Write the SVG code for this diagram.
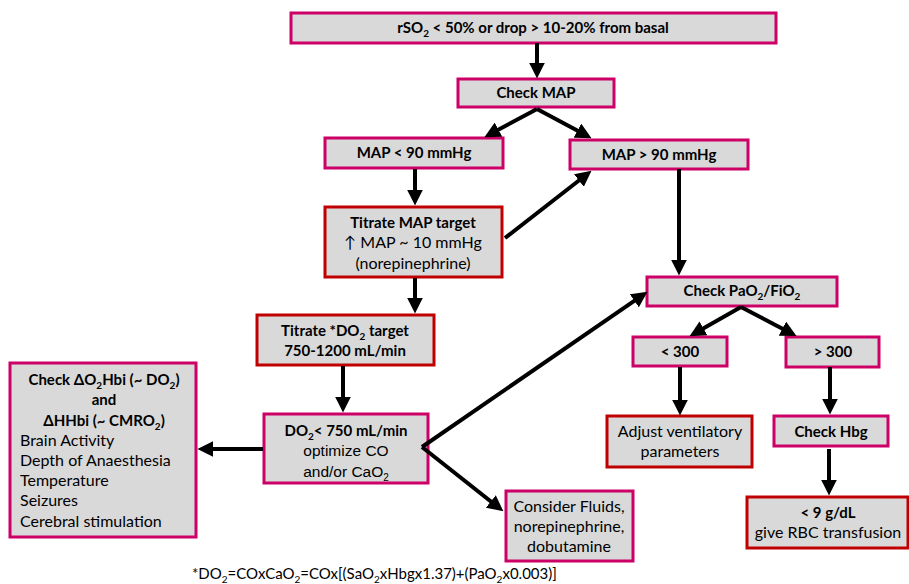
<svg xmlns="http://www.w3.org/2000/svg" width="909" height="584" viewBox="0 0 909 584">
<style>
.bx{fill:#d9d9d9;stroke-width:3}
.pk{stroke:#cc0066}
.rd{stroke:#c00000}
text{font-family:Lato,"Open Sans","Noto Sans",sans-serif;font-size:16px;fill:#000}
.b{font-weight:bold;font-size:15px}
.c{text-anchor:middle}
.ar{font-family:"Liberation Sans",Arial,sans-serif;font-size:15.5px}
.s{font-size:10px}
.cn line{stroke:#000;stroke-width:4;marker-end:url(#ah)}
</style>
<defs>
<marker id="ah" markerUnits="userSpaceOnUse" markerWidth="16" markerHeight="16" viewBox="0 0 14 14" refX="10" refY="7" orient="auto">
<path d="M0,0 L14,7 L0,14 z" fill="#000"/>
</marker>
</defs>
<g id="n1"><rect class="bx pk" x="291" y="13" width="485" height="30"/><text class="b c" x="533" y="33">rSO<tspan class="s" dy="4">2</tspan><tspan dy="-4"> &lt; 50% or drop &gt; 10-20% from basal</tspan></text></g>
<g id="n2"><rect class="bx pk" x="458" y="79" width="156" height="28"/><text class="b c" x="536" y="98">Check MAP</text></g>
<g id="n3"><rect class="bx pk" x="325" y="138" width="178" height="30"/><text class="b c" x="414" y="158">MAP &lt; 90 mmHg</text></g>
<g id="n4"><rect class="bx pk" x="570" y="140" width="178" height="29"/><text class="b c" x="659" y="160">MAP &gt; 90 mmHg</text></g>
<g id="n5"><rect class="bx rd" x="325" y="207" width="177" height="70"/><text class="b c" x="413" y="228">Titrate MAP target</text><text class="c" x="413" y="248">↑ MAP ~ 10 mmHg</text><text class="c" x="413" y="269">(norepinephrine)</text></g>
<g id="n6"><rect class="bx rd" x="257" y="315" width="177" height="50"/><text class="b c" x="345" y="336">Titrate *DO<tspan class="s" dy="4">2</tspan><tspan dy="-4"> target</tspan></text><text class="b c" x="345" y="356">750-1200 mL/min</text></g>
<g id="n7"><rect class="bx pk" x="264" y="414" width="164" height="69"/><text class="b c" x="346" y="436">DO<tspan class="s" dy="4">2</tspan><tspan dy="-4">&lt; 750 mL/min</tspan></text><text class="ar c" x="346" y="456">optimize CO</text><text class="ar c" x="346" y="477">and/or CaO<tspan class="s" dy="4">2</tspan></text></g>
<g id="n8"><rect class="bx pk" x="10" y="363" width="186" height="174"/><text class="b c" x="104" y="385">Check ΔO<tspan class="s" dy="4">2</tspan><tspan dy="-4">Hbi (~ DO</tspan><tspan class="s" dy="4">2</tspan><tspan dy="-4">)</tspan></text><text class="b c" x="104" y="405">and</text><text class="b c" x="104" y="426">ΔHHbi (~ CMRO<tspan class="s" dy="4">2</tspan><tspan dy="-4">)</tspan></text><text x="20" y="446">Brain Activity</text><text x="20" y="466">Depth of Anaesthesia</text><text x="20" y="486">Temperature</text><text x="20" y="506">Seizures</text><text x="20" y="527">Cerebral stimulation</text></g>
<g id="n9"><rect class="bx pk" x="647" y="277" width="190" height="29"/><text class="b c" x="742" y="296">Check PaO<tspan class="s" dy="4">2</tspan><tspan dy="-4">/FiO</tspan><tspan class="s" dy="4">2</tspan></text></g>
<g id="n10"><rect class="bx pk" x="633" y="337" width="94" height="29"/><text class="b c" x="680" y="357">&lt; 300</text></g>
<g id="n11"><rect class="bx pk" x="786" y="337" width="93" height="30"/><text class="b c" x="833" y="357">&gt; 300</text></g>
<g id="n12"><rect class="bx rd" x="607" y="416" width="145" height="51"/><text class="c" x="680" y="437">Adjust ventilatory</text><text class="c" x="680" y="457">parameters</text></g>
<g id="n13"><rect class="bx pk" x="774" y="416" width="114" height="30"/><text class="b c" x="831" y="437">Check Hbg</text></g>
<g id="n14"><rect class="bx rd" x="747" y="497" width="161" height="51"/><text class="b c" x="828" y="518">&lt; 9 g/dL</text><text class="c" x="828" y="538">give RBC transfusion</text></g>
<g id="n15"><rect class="bx pk" x="506" y="491" width="127" height="70"/><text class="c" x="569" y="512">Consider Fluids,</text><text class="c" x="569" y="532">norepinephrine,</text><text class="c" x="569" y="552">dobutamine</text></g>
<g id="note"><text x="192" y="579" style="font-size:15px">*DO<tspan class="s" dy="4">2</tspan><tspan dy="-4">=COxCaO</tspan><tspan class="s" dy="4">2</tspan><tspan dy="-4">=COx[(SaO</tspan><tspan class="s" dy="4">2</tspan><tspan dy="-4">xHbgx1.37)+(PaO</tspan><tspan class="s" dy="4">2</tspan><tspan dy="-4">x0.003)]</tspan></text></g>
<g id="connectors" class="cn">
<line x1="537" y1="43" x2="537" y2="74"/>
<line x1="537" y1="109" x2="488.4" y2="135"/>
<line x1="537" y1="109" x2="587.5" y2="136"/>
<line x1="415" y1="169" x2="415" y2="201"/>
<line x1="505" y1="238" x2="587.9" y2="173.5"/>
<line x1="679" y1="169" x2="679" y2="271"/>
<line x1="741" y1="307" x2="693.5" y2="334"/>
<line x1="741" y1="307" x2="792.5" y2="334"/>
<line x1="680" y1="367" x2="680" y2="411"/>
<line x1="830" y1="367" x2="830" y2="410"/>
<line x1="829" y1="449" x2="829" y2="491"/>
<line x1="415" y1="278" x2="415" y2="309"/>
<line x1="343" y1="366" x2="343" y2="408"/>
<line x1="263" y1="449" x2="202" y2="449"/>
<line x1="422" y1="447" x2="643.7" y2="294.3"/>
<line x1="422" y1="447" x2="499.8" y2="508.5"/>
</g>
</svg>
